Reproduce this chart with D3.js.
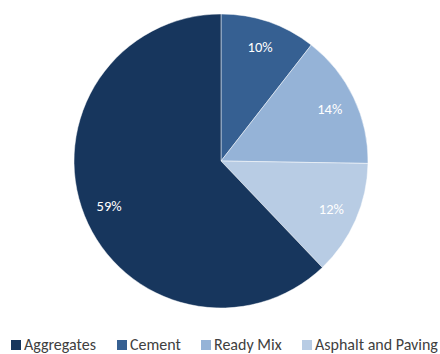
<!DOCTYPE html>
<html>
<head>
<meta charset="utf-8">
<script src="https://cdn.jsdelivr.net/npm/d3@7"></script>
<style>
  html, body { margin: 0; padding: 0; background: #fff; }
  svg { display: block; font-family: Carlito, Calibri, Lato, "Open Sans", sans-serif; }
</style>
</head>
<body>
<svg id="chart" width="440" height="354"></svg>
<script>
// Revenue share by segment
const categories = ["Aggregates", "Cement", "Ready Mix", "Asphalt and Paving"];
const shares = [59, 10, 14, 12];
const colors = ["#17365d", "#366092", "#95b3d7", "#b8cce4"];
// Slices are drawn clockwise from 12 o'clock in this order
const sliceOrder = ["Cement", "Ready Mix", "Asphalt and Paving", "Aggregates"];

const svg = d3.select("#chart");
const cx = 221, cy = 161, radius = 147;

const data = sliceOrder.map(name => {
  const i = categories.indexOf(name);
  return { name, value: shares[i], color: colors[i] };
});

const pie = d3.pie().sort(null).value(d => d.value);
const arc = d3.arc().innerRadius(0).outerRadius(radius);
const labelArc = d3.arc().innerRadius(radius * 0.82).outerRadius(radius * 0.82);

const g = svg.append("g").attr("transform", `translate(${cx},${cy})`);
const arcs = pie(data);

g.selectAll("path")
  .data(arcs)
  .join("path")
  .attr("d", arc)
  .attr("fill", d => d.data.color)
  .attr("stroke", "#ffffff")
  .attr("stroke-width", 0.8)
  .attr("stroke-opacity", 0.6);

g.selectAll("text.lbl")
  .data(arcs)
  .join("text")
  .attr("class", "lbl")
  .attr("transform", d => `translate(${labelArc.centroid(d)})`)
  .attr("text-anchor", "middle")
  .attr("dy", "0.35em")
  .attr("fill", "#ffffff")
  .style("font-size", "14.5px")
  .text(d => d.data.value + "%");

// Legend along the bottom
const legendX = [11, 117, 201, 302];
const legend = svg.append("g");
categories.forEach((name, i) => {
  const item = legend.append("g").attr("transform", `translate(${legendX[i]},340)`);
  item.append("rect").attr("width", 10).attr("height", 10).attr("fill", colors[i]);
  item.append("text")
    .attr("x", 13)
    .attr("y", 10)
    .attr("fill", "#404040")
    .style("font-size", "16px")
    .text(name);
});
</script>
</body>
</html>
